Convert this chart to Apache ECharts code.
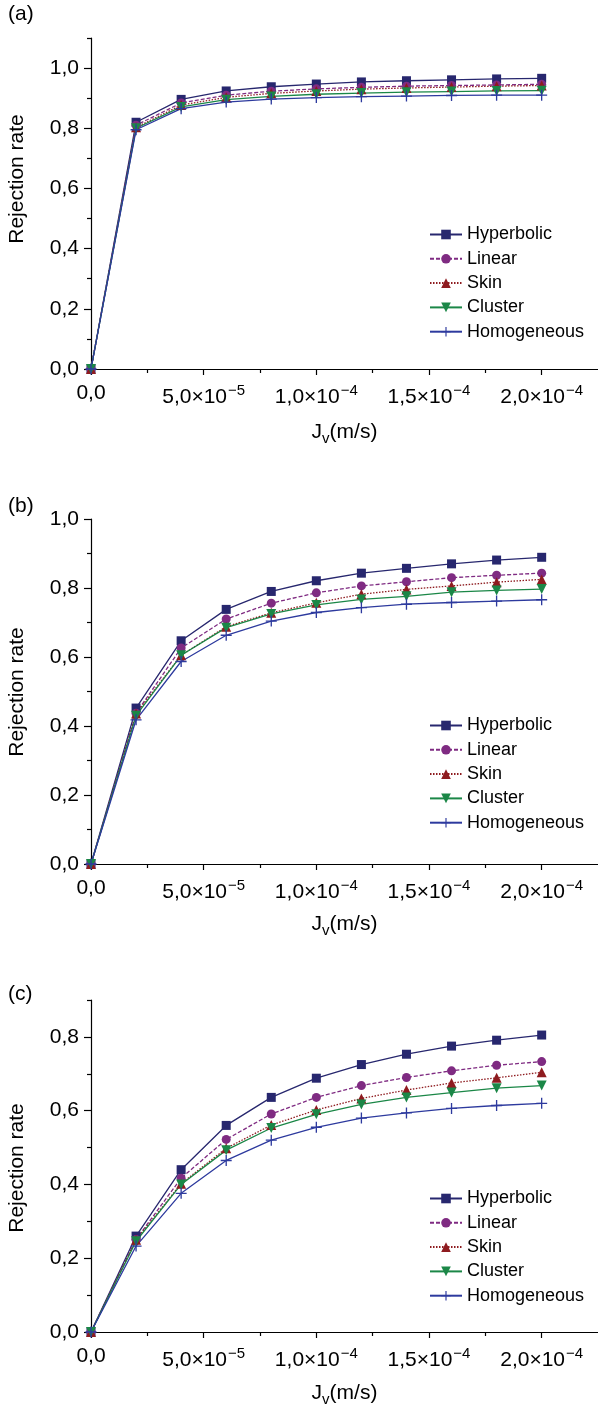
<!DOCTYPE html>
<html>
<head>
<meta charset="utf-8">
<script src="https://cdn.jsdelivr.net/npm/echarts@6/dist/echarts.min.js"></script>
<style>
html, body { margin: 0; padding: 0; background: #fff; }
#chart { width: 598px; height: 1408px; }
</style>
</head>
<body>
<div id="chart"></div>
<script>
// Jv (m/s)
const jv = [0, 2e-5, 4e-5, 6e-5, 8e-5, 1e-4, 1.2e-4, 1.4e-4, 1.6e-4, 1.8e-4, 2e-4]
const names = ['Hyperbolic', 'Linear', 'Skin', 'Cluster', 'Homogeneous']

// (a)
const aHyperbolic = [0, 0.820, 0.896, 0.924, 0.938, 0.947, 0.954, 0.958, 0.961, 0.964, 0.966]
const aLinear = [0, 0.810, 0.884, 0.910, 0.923, 0.931, 0.936, 0.940, 0.942, 0.944, 0.946]
const aSkin = [0, 0.803, 0.877, 0.903, 0.916, 0.924, 0.930, 0.934, 0.937, 0.940, 0.942]
const aCluster = [0, 0.800, 0.871, 0.895, 0.906, 0.913, 0.917, 0.920, 0.922, 0.924, 0.925]
const aHomogeneous = [0, 0.795, 0.865, 0.887, 0.897, 0.902, 0.905, 0.907, 0.909, 0.910, 0.910]
// (b)
const bHyperbolic = [0, 0.452, 0.647, 0.738, 0.790, 0.821, 0.843, 0.857, 0.870, 0.881, 0.889]
const bLinear = [0, 0.437, 0.626, 0.710, 0.756, 0.786, 0.806, 0.818, 0.830, 0.837, 0.843]
const bSkin = [0, 0.436, 0.605, 0.688, 0.728, 0.757, 0.782, 0.796, 0.806, 0.817, 0.825]
const bCluster = [0, 0.430, 0.605, 0.685, 0.725, 0.751, 0.767, 0.776, 0.788, 0.793, 0.797]
const bHomogeneous = [0, 0.418, 0.587, 0.663, 0.704, 0.729, 0.743, 0.753, 0.758, 0.762, 0.766]
// (c)
const cHyperbolic = [0, 0.260, 0.440, 0.560, 0.636, 0.688, 0.725, 0.753, 0.775, 0.791, 0.805]
const cLinear = [0, 0.251, 0.417, 0.522, 0.591, 0.636, 0.668, 0.690, 0.708, 0.723, 0.733]
const cSkin = [0, 0.250, 0.402, 0.498, 0.561, 0.602, 0.633, 0.656, 0.675, 0.689, 0.704]
const cCluster = [0, 0.246, 0.400, 0.493, 0.553, 0.590, 0.617, 0.636, 0.649, 0.661, 0.668]
const cHomogeneous = [0, 0.233, 0.376, 0.465, 0.520, 0.555, 0.580, 0.594, 0.606, 0.614, 0.620]

// tick values and labels
const xTicks = [0, 5e-5, 1e-4, 1.5e-4, 2e-4]
const xTickMantissa = ['0,0', '5,0×10', '1,0×10', '1,5×10', '2,0×10']
const xTickExponent = ['', '−5', '−4', '−4', '−4']
const xMinorTicks = [2.5e-5, 7.5e-5, 1.25e-4, 1.75e-4]
const yTicksAB = [0, 0.2, 0.4, 0.6, 0.8, 1.0]
const yTicksC = [0, 0.2, 0.4, 0.6, 0.8]
const yMinorA = [0.1, 0.3, 0.5, 0.7, 0.9, 1.1]
const yMinorBC = [0.1, 0.3, 0.5, 0.7, 0.9]

const font = 'Liberation Sans, Arial, sans-serif'

const styles = [
  { color: '#27276e', type: 'solid', symbol: 'rect', size: 9, rotate: 0 },
  { color: '#7f2b82', type: [4, 2], symbol: 'circle', size: 9, rotate: 0 },
  { color: '#8e1b1f', type: [1.5, 1.5], symbol: 'triangle', size: 10, rotate: 0 },
  { color: '#1b8747', type: 'solid', symbol: 'triangle', size: 10, rotate: 180 },
  { color: '#2d3a9e', type: 'solid', symbol: 'path://M4.4,0h1.2v4.4h4.4v1.2h-4.4v4.4h-1.2v-4.4h-4.4v-1.2h4.4z', size: 11, rotate: 0 }
]

const panels = [
  { tag: '(a)', tagY: 15, top: 38, bottom: 369, yMax: 1.1, yTicks: yTicksAB, yMinor: yMinorA, nameY: 179, legendTop: 225, nameGap: 50,
    series: [aHyperbolic, aLinear, aSkin, aCluster, aHomogeneous] },
  { tag: '(b)', tagY: 507, top: 519, bottom: 864, yMax: 1.0, yTicks: yTicksAB, yMinor: yMinorBC, nameY: 692, legendTop: 716, nameGap: 47,
    series: [bHyperbolic, bLinear, bSkin, bCluster, bHomogeneous] },
  { tag: '(c)', tagY: 995, top: 1000, bottom: 1338, yMax: 0.9, yTicks: yTicksC, yMinor: yMinorBC, nameY: 1168, legendTop: 1189, nameGap: 48,
    series: [cHyperbolic, cLinear, cSkin, cCluster, cHomogeneous] }
]

const axisLineStyle = { color: '#000', width: 1.2 }

function xLabel(v) {
  const i = xTicks.findIndex(t => Math.abs(t - v) < 1e-12)
  if (i < 0) return ''
  if (!xTickExponent[i]) return '{m|' + xTickMantissa[i] + '}'
  return '{m|' + xTickMantissa[i] + '}{e|' + xTickExponent[i] + '}'
}

const grid = []
const xAxis = []
const yAxis = []
const legend = []
const series = []
const graphic = []

panels.forEach((p, gi) => {
  grid.push({ left: 91, right: 0, top: p.top, height: p.bottom - p.top })
  // main x axis
  xAxis.push({
    type: 'value',
    gridIndex: gi,
    position: 'bottom',
    min: 0,
    max: 2.25e-4,
    axisLine: { onZero: false, lineStyle: axisLineStyle },
    axisTick: { customValues: xTicks, length: 6, lineStyle: axisLineStyle },
    axisLabel: {
      customValues: xTicks,
      formatter: xLabel,
      margin: 14,
      rich: {
        m: { fontSize: 21, fontFamily: font, color: '#000' },
        e: { fontSize: 15, fontFamily: font, color: '#000', padding: [0, 0, 14, 1] }
      }
    },
    splitLine: { show: false },
    name: '{a|J}{v|v}{a|(m/s)}',
    nameLocation: 'middle',
    nameGap: p.nameGap,
    nameTextStyle: {
      rich: {
        a: { fontSize: 21, fontFamily: font, color: '#000' },
        v: { fontSize: 15, fontFamily: font, color: '#000', padding: [12, 0, 0, 0] }
      }
    }
  })
  // minor x ticks
  xAxis.push({
    type: 'value',
    gridIndex: gi,
    position: 'bottom',
    min: 0,
    max: 2.25e-4,
    axisLine: { show: false },
    axisTick: { customValues: xMinorTicks, length: 4, lineStyle: axisLineStyle },
    axisLabel: { show: false },
    splitLine: { show: false }
  })
  // main y axis
  yAxis.push({
    type: 'value',
    gridIndex: gi,
    position: 'left',
    min: 0,
    max: p.yMax,
    axisLine: { show: true, onZero: false, lineStyle: axisLineStyle },
    axisTick: { show: true, customValues: p.yTicks, length: 7, lineStyle: axisLineStyle },
    axisLabel: {
      customValues: p.yTicks,
      formatter: v => v.toFixed(1).replace('.', ','),
      margin: 12,
      fontSize: 21,
      fontFamily: font,
      color: '#000'
    },
    splitLine: { show: false }
  })
  // minor y ticks
  yAxis.push({
    type: 'value',
    gridIndex: gi,
    position: 'left',
    min: 0,
    max: p.yMax,
    axisLine: { show: false },
    axisTick: { show: true, customValues: p.yMinor, length: 4, lineStyle: axisLineStyle },
    axisLabel: { show: false },
    splitLine: { show: false }
  })

  legend.push({
    orient: 'vertical',
    left: 429,
    top: p.legendTop,
    padding: 0,
    itemWidth: 32,
    itemHeight: 12,
    itemGap: 5.3,
    data: names,
    textStyle: { fontSize: 18, fontFamily: font, color: '#000', lineHeight: 19 }
  })

  p.series.forEach((vals, si) => {
    const s = styles[si]
    series.push({
      name: names[si],
      type: 'line',
      xAxisIndex: gi * 2,
      yAxisIndex: gi * 2,
      data: jv.map((x, i) => [x, vals[i]]),
      symbol: s.symbol,
      symbolSize: s.size,
      symbolRotate: s.rotate,
      showAllSymbol: true,
      clip: false,
      itemStyle: { color: s.color },
      lineStyle: { color: s.color, width: 1.3, type: s.type },
      animation: false
    })
  })

  graphic.push({
    type: 'text',
    left: 8,
    top: p.tagY - 11,
    style: { text: p.tag, fontSize: 21, fontFamily: font, fill: '#000' }
  })
  graphic.push({
    type: 'text',
    x: 17,
    y: p.nameY,
    rotation: Math.PI / 2,
    style: { text: 'Rejection rate', fontSize: 21, fontFamily: font, fill: '#000', align: 'center', verticalAlign: 'middle' }
  })
})

const chart = echarts.init(document.getElementById('chart'))
chart.setOption({
  backgroundColor: '#fff',
  animation: false,
  grid: grid,
  xAxis: xAxis,
  yAxis: yAxis,
  legend: legend,
  series: series,
  graphic: graphic
})
</script>
</body>
</html>
